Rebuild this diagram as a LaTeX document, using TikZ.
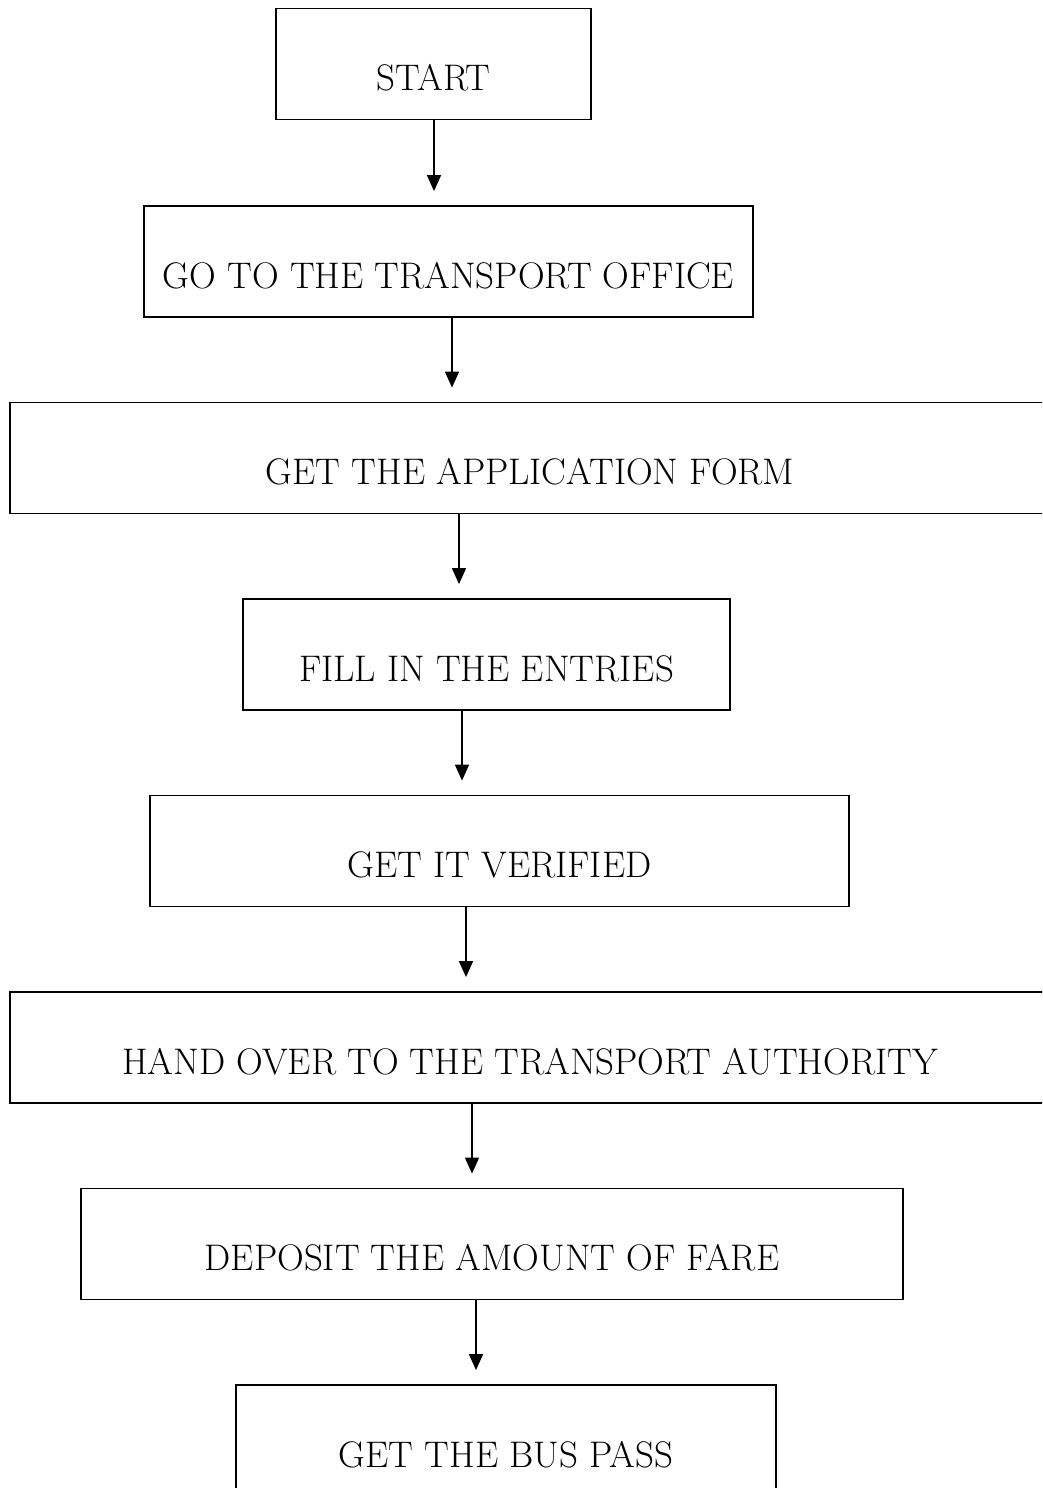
\documentclass[tikz,border=0pt]{standalone}
\usetikzlibrary{arrows.meta}

\begin{document}
\begin{tikzpicture}[x=1pt, y=-1pt,
    stepbox/.style={rectangle, draw, line width=1.8pt, inner sep=0pt, minimum height=111pt,
        text height=60pt, text depth=7pt, font=\fontsize{37}{44}\selectfont},
    flow/.style={-{Triangle[length=16pt, width=14pt]}, line width=1.5pt}]

    \clip (0,0) rectangle (1042,1488);

    \node[stepbox, minimum width=315pt] (start) at (433.5, 64) {START};
    \node[stepbox, minimum width=609pt] (office) at (448.5, 261.5) {GO TO THE TRANSPORT OFFICE};
    \node[stepbox, minimum width=1040pt] (form) at (530, 458) {GET THE APPLICATION FORM};
    \node[stepbox, minimum width=487pt] (entries) at (486.5, 654.5) {FILL IN THE ENTRIES};
    \node[stepbox, minimum width=699pt] (verified) at (499.5, 851) {GET IT VERIFIED};
    \node[stepbox, minimum width=1040pt] (handover) at (530, 1047.5) {HAND OVER TO THE TRANSPORT AUTHORITY};
    \node[stepbox, minimum width=822pt] (deposit) at (492, 1244) {DEPOSIT THE AMOUNT OF FARE};
    \node[stepbox, minimum width=540pt] (buspass) at (506, 1440.5) {GET THE BUS PASS};
    % Arrows between the steps
    \draw[flow] (start.south -| 434,0) -- ([yshift=14pt]office.north -| 434,0); % start to office
    \draw[flow] (office.south -| 452,0) -- ([yshift=14pt]form.north -| 452,0); % office to form
    \draw[flow] (form.south -| 459,0) -- ([yshift=14pt]entries.north -| 459,0); % form to entries
    \draw[flow] (entries.south -| 462,0) -- ([yshift=14pt]verified.north -| 462,0); % entries to verified
    \draw[flow] (verified.south -| 466,0) -- ([yshift=14pt]handover.north -| 466,0); % verified to handover
    \draw[flow] (handover.south -| 472,0) -- ([yshift=14pt]deposit.north -| 472,0); % handover to deposit
    \draw[flow] (deposit.south -| 476,0) -- ([yshift=14pt]buspass.north -| 476,0); % deposit to bus pass
\end{tikzpicture}
\end{document}
